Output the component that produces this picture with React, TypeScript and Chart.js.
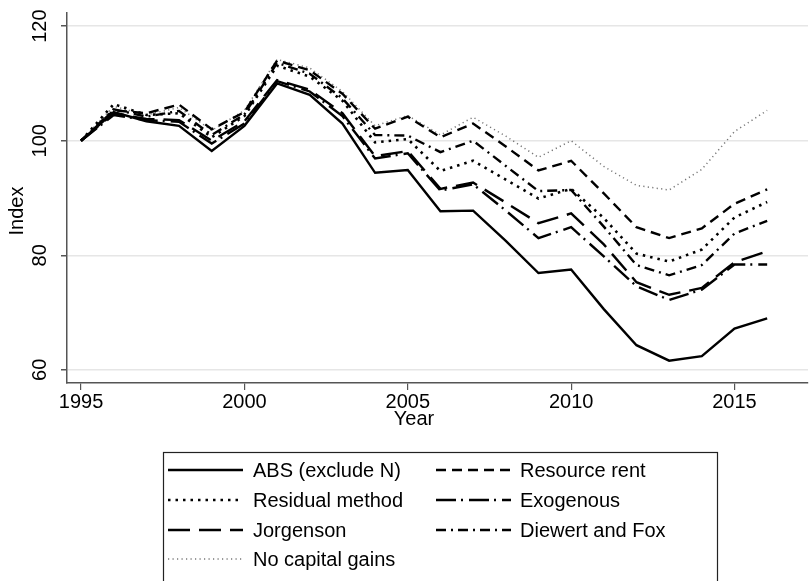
import React, { useEffect, useRef } from "react";
import { Chart, registerables } from "chart.js";

Chart.register(...registerables);

const years = [1995, 1996, 1997, 1998, 1999, 2000, 2001, 2002, 2003, 2004, 2005, 2006, 2007, 2008, 2009, 2010, 2011, 2012, 2013, 2014, 2015, 2016];

const absExcludeN = [100, 105.0, 103.4, 102.6, 98.2, 102.6, 110.0, 108.0, 103.0, 94.4, 94.9, 87.7, 87.8, 82.5, 76.9, 77.5, 70.6, 64.3, 61.6, 62.4, 67.2, 69.0];
const resourceRent = [100, 105.3, 104.8, 106.3, 102.0, 105.0, 114.0, 112.3, 108.2, 102.1, 104.2, 100.6, 103.0, 99.0, 94.8, 96.5, 90.8, 84.9, 83.0, 84.7, 89.0, 91.5];
const residualMethod = [100, 106.4, 104.5, 104.8, 100.6, 104.3, 113.1, 111.2, 107.0, 99.7, 100.3, 94.7, 96.5, 93.2, 89.9, 91.6, 86.5, 80.3, 78.9, 81.0, 86.6, 89.3];
const exogenous = [100, 104.5, 103.6, 103.3, 99.5, 103.0, 110.4, 108.6, 104.3, 96.9, 97.8, 91.3, 92.4, 87.8, 83.0, 84.9, 79.8, 74.6, 72.2, 74.0, 78.4, 78.4];
const jorgenson = [100, 104.8, 103.8, 103.6, 100.0, 103.4, 110.6, 108.9, 104.8, 97.3, 98.2, 91.6, 92.7, 89.2, 85.6, 87.3, 81.9, 75.3, 73.1, 74.3, 78.8, 80.7];
const diewertFox = [100, 105.5, 104.2, 105.2, 101.0, 104.6, 113.6, 111.7, 107.4, 101.0, 100.9, 98.0, 100.0, 95.6, 91.2, 91.4, 85.0, 78.3, 76.5, 78.3, 83.8, 86.0];
const noCapitalGains = [100, 106.0, 104.5, 105.8, 101.8, 105.3, 114.2, 112.7, 108.6, 102.6, 104.4, 101.0, 104.1, 100.8, 97.1, 100.0, 95.5, 92.2, 91.4, 95.0, 101.6, 105.3];

const xTicks = [1995, 2000, 2005, 2010, 2015];
const yTicks = [60, 80, 100, 120];

const FONT = "'Liberation Sans', Arial, Helvetica, sans-serif";
const FS = 20;

const series = [
  { label: "ABS (exclude N)", data: absExcludeN, dash: [], width: 2.4, color: "#000" },
  { label: "Resource rent", data: resourceRent, dash: [10, 6], width: 2.4, color: "#000" },
  { label: "Residual method", data: residualMethod, dash: [2.5, 5], width: 2.6, color: "#000" },
  { label: "Exogenous", data: exogenous, dash: [20, 5, 2, 6], width: 2.4, color: "#000" },
  { label: "Jorgenson", data: jorgenson, dash: [22, 9], width: 2.4, color: "#000" },
  { label: "Diewert and Fox", data: diewertFox, dash: [10, 5, 2, 5], width: 2.4, color: "#000" },
  { label: "No capital gains", data: noCapitalGains, dash: [1.2, 3.3], width: 1.5, color: "#777" },
];

const customPlugin = {
  id: "stataDecor",
  afterDraw(chart: any) {
    const ctx = chart.ctx;
    const ys = chart.scales.y;
    ctx.save();
    ctx.fillStyle = "#000";
    ctx.font = `${FS}px ${FONT}`;
    ctx.textAlign = "center";
    ctx.textBaseline = "middle";
    for (const t of ys.ticks) {
      const py = ys.getPixelForValue(t.value);
      ctx.save();
      ctx.translate(40, py);
      ctx.rotate(-Math.PI / 2);
      ctx.fillText(String(t.value), 0, 0);
      ctx.restore();
    }
    ctx.save();
    ctx.translate(17, 211);
    ctx.rotate(-Math.PI / 2);
    ctx.fillText("Index", 0, 0);
    ctx.restore();
    ctx.fillText("Year", 414, 419);

    const bx = 163, by = 452, bw = 554, bh = 140;
    ctx.strokeStyle = "#222";
    ctx.lineWidth = 1.2;
    ctx.strokeRect(bx + 0.5, by + 0.5, bw, bh);
    const rows = [470, 500, 530, 559];
    const cols = [
      { s0: 168, s1: 243, tx: 253 },
      { s0: 436, s1: 511, tx: 520 },
    ];
    const order = [[0, 1], [2, 3], [4, 5], [6]];
    ctx.textAlign = "left";
    order.forEach((row, ri) => {
      row.forEach((si, ci) => {
        const ds = chart.data.datasets[si];
        const c = cols[ci];
        const y = rows[ri];
        ctx.save();
        ctx.strokeStyle = ds.borderColor;
        ctx.lineWidth = ds.borderWidth;
        ctx.setLineDash(ds.borderDash || []);
        ctx.beginPath();
        ctx.moveTo(c.s0, y);
        ctx.lineTo(c.s1, y);
        ctx.stroke();
        ctx.restore();
        ctx.fillStyle = "#000";
        ctx.fillText(ds.label, c.tx, y + 1);
      });
    });
    ctx.restore();
  },
};

export default function App() {
  const ref = useRef<HTMLCanvasElement | null>(null);
  useEffect(() => {
    if (!ref.current) return;
    const chart = new Chart(ref.current, {
      type: "line",
      data: {
        datasets: series.map((s) => ({
          label: s.label,
          data: years.map((yr, i) => ({ x: yr, y: s.data[i] })),
          borderColor: s.color,
          borderWidth: s.width,
          borderDash: s.dash,
          borderCapStyle: "butt",
          borderJoinStyle: "miter",
          pointRadius: 0,
          tension: 0,
          fill: false,
        })),
      },
      options: {
        animation: false,
        responsive: false,
        maintainAspectRatio: false,
        layout: { padding: { top: 13, right: 1, left: 0, bottom: 0 } },
        plugins: { legend: { display: false }, tooltip: { enabled: false } },
        scales: {
          x: {
            type: "linear",
            min: 1994.57,
            max: 2017.25,
            afterBuildTicks: (sc: any) => {
              sc.ticks = xTicks.map((v) => ({ value: v }));
            },
            afterFit: (sc: any) => {
              sc.height = 581 - 383;
            },
            ticks: {
              callback: (v: any) => String(v),
              color: "#000",
              font: { family: FONT, size: FS },
              padding: 0,
              maxRotation: 0,
              autoSkip: false,
            },
            grid: {
              drawOnChartArea: false,
              color: "#555",
              tickColor: "#555",
              tickLength: 7,
              lineWidth: 1.2,
            },
            border: { color: "#555", width: 1.5 },
          },
          y: {
            type: "linear",
            min: 57.7,
            max: 122.3,
            afterBuildTicks: (sc: any) => {
              sc.ticks = yTicks.map((v) => ({ value: v }));
            },
            afterFit: (sc: any) => {
              sc.width = 67;
            },
            ticks: { display: false },
            grid: {
              color: "#e6e6e6",
              lineWidth: 1.5,
              tickColor: "#555",
              tickLength: 6,
            },
            border: { color: "#555", width: 1.5 },
          },
        },
      },
      plugins: [customPlugin],
    });
    return () => chart.destroy();
  }, []);
  return (
    <div style={{ position: "absolute", left: 0, top: 0, width: 809, height: 581, background: "#fff" }}>
      <canvas ref={ref} width={809} height={581} style={{ display: "block", width: 809, height: 581 }} />
    </div>
  );
}
